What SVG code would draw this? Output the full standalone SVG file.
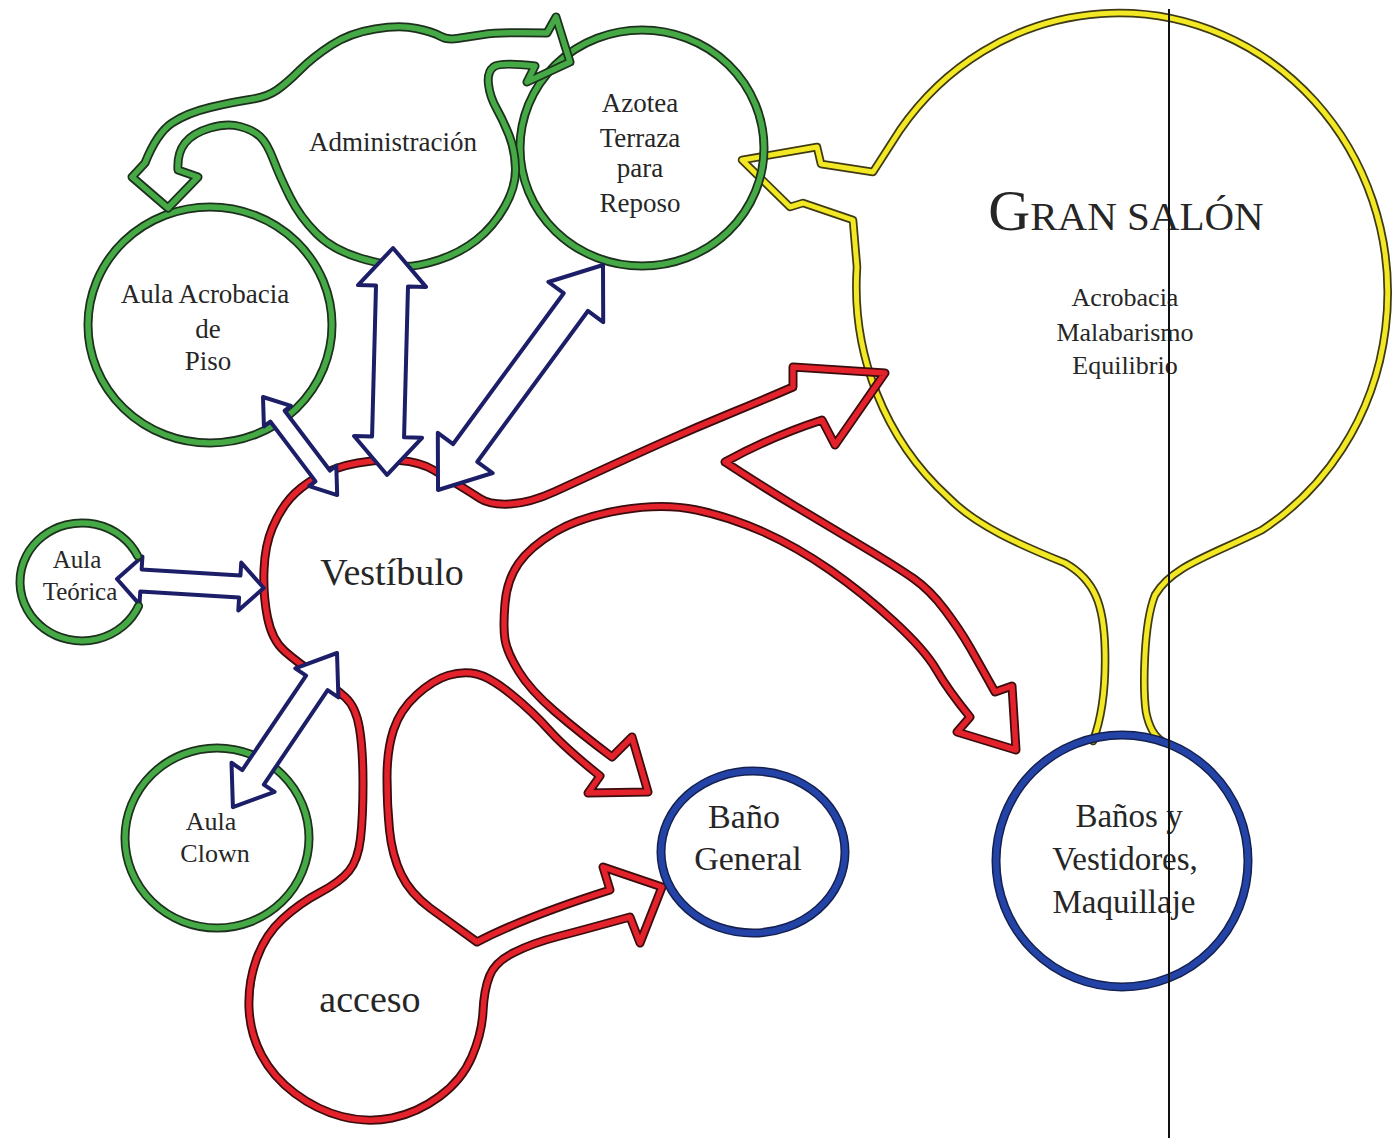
<svg xmlns="http://www.w3.org/2000/svg" width="1398" height="1138" viewBox="0 0 1398 1138">
<style>
.go{fill:none;stroke:#1d301d;stroke-width:9;stroke-linejoin:round;stroke-linecap:round}
.gi{fill:none;stroke:#45aa45;stroke-width:5.5;stroke-linejoin:round;stroke-linecap:round}
.ro{fill:none;stroke:#3a0c0e;stroke-width:9;stroke-linejoin:round;stroke-linecap:round}
.ri{fill:none;stroke:#e3222b;stroke-width:5.5;stroke-linejoin:round;stroke-linecap:round}
.yo{fill:none;stroke:#3f3a14;stroke-width:8.5;stroke-linejoin:round;stroke-linecap:round}
.yi{fill:none;stroke:#f2e824;stroke-width:5;stroke-linejoin:round;stroke-linecap:round}
.bo{fill:none;stroke:#14204f;stroke-width:9}
.bi{fill:none;stroke:#2443a6;stroke-width:6}
.ar{fill:#ffffff;stroke:#1c1e68;stroke-width:4;stroke-linejoin:round}
.t{font-family:"Liberation Serif","DejaVu Serif",serif;fill:#262626;text-anchor:middle}
</style>
<defs>
<path id="p-admin" d="M168,208 L132,177 L145,163 Q157,133 172,123 Q187,113 210,107.5 Q233,102 250,99.5 Q267,97 277,90 Q287,83 300,70 Q313,57 331.5,45 Q350,33 375,29 Q400,25 416.5,28.5 Q433,32 440,36 Q447,40 457,38.5 Q467,37 483.5,34.5 Q500,32 547,33 L556,17 L570,62 L527,82 L535,66 Q500,62 493.5,67 Q487,72 488.5,84.5 Q490,97 496.5,108.5 Q503,120 509,135 Q515,150 515.5,168.5 Q516,187 504.5,207 Q493,227 476.5,240 Q460,253 438.5,260 Q417,267 402,266.5 Q387,266 360,258 Q333,250 316.5,233.5 Q300,217 290,197 Q280,177 273.5,160 Q267,143 260,136.5 Q253,130 240,126.5 Q227,123 210,128 Q193,133 185,143 Q177,153 178,170 L198,177 Z"/>
<path id="p-vest" d="M822,420 Q770,437 725,462 Q763,487 796.5,507 Q830,527 863.5,547 Q897,567 913.5,578.5 Q930,590 945,610 Q960,630 970,647.5 Q980,665 995,692 L1012,686 L1016,750 L957,732 L970,717 Q948,690 936.5,670 Q925,650 894,621.5 Q863,593 830,570 Q797,547 763.5,532 Q730,517 696.5,510 Q663,503 621.5,510 Q580,517 555,532 Q530,547 518.5,563.5 Q507,580 505,603.5 Q503,627 505,639.5 Q507,652 518.5,671 Q530,690 555,711.5 Q580,733 612,757 L632,737 L648,792 L588,793 L600,776 Q565,748 549,730 Q533,712 511.5,694.5 Q490,677 476.5,674 Q463,671 448,675.5 Q433,680 416.5,695 Q400,710 393.5,730 Q387,750 387,777.5 Q387,805 389.5,830 Q392,855 401,874 Q410,893 430,908 L477,942 Q525,917 610,890 L603,867 L662,887 L640,943 L630,917 Q583,930 558,936.5 Q533,943 514,952.5 Q495,962 489.5,976 Q484,990 483,1011.5 Q482,1033 472,1056.5 Q462,1080 439.5,1096.5 Q417,1113 392,1118 Q367,1123 342,1116.5 Q317,1110 295,1093.5 Q273,1077 261.5,1055 Q250,1033 249,1008 Q248,983 256.5,959 Q265,935 282.5,919 Q300,903 320,892.5 Q340,882 349,871 Q358,860 360.5,838.5 Q363,817 363,783.5 Q363,750 359.5,728.5 Q356,707 345.5,697.5 Q335,688 316,675 Q297,662 284.5,651 Q272,640 267.5,617.5 Q263,595 264,570 Q265,545 272.5,527.5 Q280,510 290,498.5 Q300,487 317.5,477 Q335,467 357.5,463 Q380,459 400,460.5 Q420,462 433.5,470 Q447,478 458.5,485 Q470,492 480,498.5 Q490,505 510,504 Q530,503 555,491.5 Q580,480 605,468.5 Q630,457 663.5,442 Q697,427 730,413.5 Q763,400 793,387 L793,367 L885,373 L835,445 Z"/>
<path id="p-gran" d="M1093,741 C1101,720 1106,690 1105,650 C1104,605 1095,580 1065,563 C1020,545 975,525 948,497 A269,280 0 0 1 857,267 L853,220 L803,203 L790,207 L742,160 L817,147 L821,164 L873,172 L900,130 A269,280 0 1 1 1262,530 C1210,556 1172,566 1155,595 C1143,625 1143,690 1146,712 C1149,727 1154,736 1162,741"/>
<ellipse id="p-acro" cx="210" cy="325" rx="122" ry="118"/>
<ellipse id="p-azo" cx="642" cy="148" rx="122" ry="118"/>
<path id="p-teo" d="M138.6,606 A62,59 0 1 1 137.7,556"/>
<ellipse id="p-clown" cx="217" cy="838" rx="92" ry="90"/>
</defs>
<rect width="1398" height="1138" fill="#ffffff"/>

<g id="node-gran-salon">
<use href="#p-gran" class="yo"/><use href="#p-gran" class="yi"/>
<text class="t" x="1126" y="230"><tspan font-size="58">G</tspan><tspan font-size="41">RAN SALÓN</tspan></text>
<text class="t" font-size="26" x="1125" y="306">Acrobacia</text>
<text class="t" font-size="26" x="1125" y="341">Malabarismo</text>
<text class="t" font-size="26" x="1125" y="374">Equilibrio</text>
</g>

<g id="node-aula-acrobacia">
<use href="#p-acro" class="go"/><use href="#p-acro" class="gi"/>
<text class="t" font-size="27" x="205" y="303">Aula Acrobacia</text>
<text class="t" font-size="27" x="208" y="338">de</text>
<text class="t" font-size="27" x="208" y="370">Piso</text>
</g>

<g id="node-azotea">
<use href="#p-azo" class="go"/><use href="#p-azo" class="gi"/>
<text class="t" font-size="27" x="640" y="112">Azotea</text>
<text class="t" font-size="27" x="640" y="147">Terraza</text>
<text class="t" font-size="27" x="640" y="177">para</text>
<text class="t" font-size="27" x="640" y="212">Reposo</text>
</g>

<g id="node-administracion">
<use href="#p-admin" class="go"/><use href="#p-admin" class="gi"/>
<text class="t" font-size="27" x="393" y="151">Administración</text>
</g>

<g id="node-aula-clown">
<use href="#p-clown" class="go"/><use href="#p-clown" class="gi"/>
<text class="t" font-size="26" x="211" y="830">Aula</text>
<text class="t" font-size="26" x="215" y="862">Clown</text>
</g>

<g id="node-vestibulo">
<use href="#p-vest" class="ro"/><use href="#p-vest" class="ri"/>
<text class="t" font-size="38" x="392" y="585">Vestíbulo</text>
</g>

<g id="node-acceso">
<text class="t" font-size="38" x="370" y="1012">acceso</text>
</g>

<g id="node-bano-general">
<ellipse cx="753" cy="852" rx="92" ry="81" class="bo"/>
<ellipse cx="753" cy="852" rx="92" ry="81" class="bi"/>
<text class="t" font-size="34" x="744" y="828">Baño</text>
<text class="t" font-size="34" x="748" y="870">General</text>
</g>

<g id="node-banos-vestidores">
<ellipse cx="1122" cy="861" rx="126" ry="126" class="bo"/>
<ellipse cx="1122" cy="861" rx="126" ry="126" class="bi"/>
<text class="t" font-size="33" x="1129" y="827">Baños y</text>
<text class="t" font-size="33" x="1125" y="870">Vestidores,</text>
<text class="t" font-size="33" x="1124" y="913">Maquillaje</text>
</g>

<g id="connectors">
<polygon class="ar" transform="translate(263,397) rotate(52.9)" points="0,0 24,-17 24,-9 99,-9 99,-17 123,0 99,17 99,9 24,9 24,17"/>
<polygon class="ar" transform="translate(393,248) rotate(91.5)" points="0,0 38,-34 38,-16 189,-16 189,-34 227,0 189,34 189,16 38,16 38,34"/>
<polygon class="ar" transform="translate(603,265) rotate(126.25)" points="0,0 46,-34 46,-15 233,-15 233,-34 279,0 233,34 233,15 46,15 46,34"/>
<polygon class="ar" transform="translate(117,579) rotate(3.5)" points="0,0 24,-24 24,-11 123,-11 123,-24 147,0 123,24 123,11 24,11 24,24"/>
<polygon class="ar" transform="translate(337,653) rotate(124.03)" points="0,0 36,-26 36,-13 150,-13 150,-26 186,0 150,26 150,13 36,13 36,26"/>
</g>

<g id="node-aula-teorica">
<use href="#p-teo" class="go"/><use href="#p-teo" class="gi"/>
<text class="t" font-size="25" x="77" y="568">Aula</text>
<text class="t" font-size="25" x="80" y="600">Teórica</text>
</g>

<line x1="1169" y1="9" x2="1169" y2="1138" stroke="#111111" stroke-width="2"/>
</svg>
